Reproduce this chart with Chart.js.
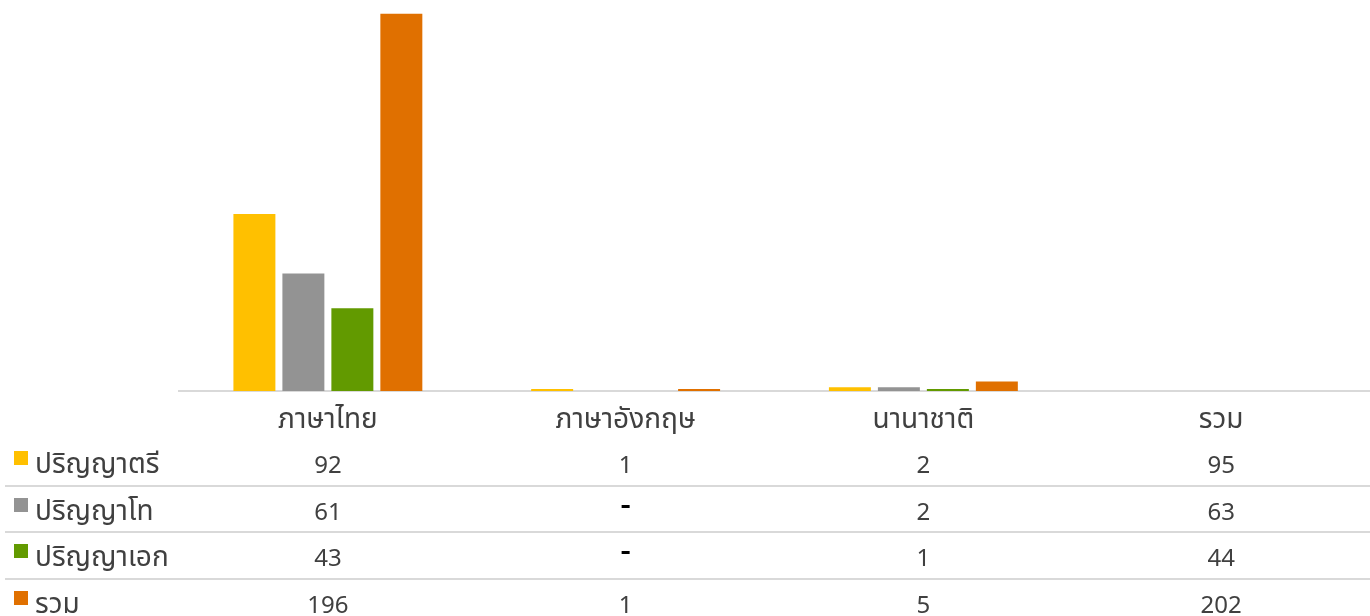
<!DOCTYPE html>
<html>
<head>
<meta charset="utf-8">
<script src="https://cdn.jsdelivr.net/npm/chart.js@4"></script>
<style>
  html, body { margin: 0; padding: 0; background: #fff; }
  #wrap { width: 1370px; height: 616px; position: relative; }
</style>
</head>
<body>
<div id="wrap"><canvas id="chart"></canvas></div>
<script>
// categories (last one is the total column, shown in the table only)
let categories = ["ภาษาไทย", "ภาษาอังกฤษ", "นานาชาติ", "รวม"];
let seriesNames = ["ปริญญาตรี", "ปริญญาโท", "ปริญญาเอก", "รวม"];
let seriesColors = ["#FFC000", "#939393", "#629A00", "#E07000"];

let bachelor = [92, 1, 2, 95];
let master = [61, null, 2, 63];
let doctorate = [43, null, 1, 44];
let total = [196, 1, 5, 202];

let allSeries = [bachelor, master, doctorate, total];

const fontFamily = "'Noto Sans Thai', 'Noto Sans', sans-serif";
const textColor = "#404040";
const lineColor = "#d9d9d9";

// text baselines of the table rows, and the lines between them
const rowBase = [473, 520, 566, 613];
const rowLines = [486, 532, 579];

const tablePlugin = {
  id: "dataTable",
  afterDraw(chart) {
    const ctx = chart.ctx;
    const x = chart.scales.x;
    ctx.save();
    ctx.strokeStyle = lineColor;
    ctx.lineWidth = 2;
    rowLines.forEach((y) => {
      ctx.beginPath();
      ctx.moveTo(5, y);
      ctx.lineTo(1370, y);
      ctx.stroke();
    });

    ctx.textBaseline = "alphabetic";
    allSeries.forEach((values, r) => {
      // legend key + row name
      ctx.fillStyle = seriesColors[r];
      ctx.fillRect(14, rowBase[r] - 22, 14, 14);
      ctx.fillStyle = textColor;
      ctx.textAlign = "left";
      ctx.font = "28px " + fontFamily;
      ctx.fillText(seriesNames[r], 35, rowBase[r]);

      ctx.textAlign = "center";
      ctx.font = "24px " + fontFamily;
      values.forEach((v, i) => {
        const px = x.getPixelForValue(i);
        if (v === null) {
          ctx.fillStyle = "#000";
          ctx.fillRect(px - 4, rowBase[r] - 15, 8, 3);
        } else {
          ctx.fillStyle = textColor;
          ctx.fillText(String(v), px, rowBase[r]);
        }
      });
    });
    ctx.restore();
  },
};

let datasets = seriesNames.map((name, i) => ({
  label: name,
  // the total column has no bars
  data: allSeries[i].slice(0, 3),
  backgroundColor: seriesColors[i],
  borderWidth: 0,
  barPercentage: 0.857,
  categoryPercentage: 0.658,
}));

let ctx = document.getElementById("chart").getContext("2d");
new Chart(ctx, {
  type: "bar",
  data: {
    labels: categories,
    datasets: datasets,
  },
  plugins: [tablePlugin],
  options: {
    responsive: true,
    maintainAspectRatio: false,
    animation: false,
    layout: {
      padding: { left: 179, right: 0, top: 6, bottom: 175 },
    },
    plugins: {
      legend: { display: false },
      tooltip: { enabled: false },
    },
    scales: {
      x: {
        grid: { display: false, drawTicks: false },
        border: { display: true, color: lineColor, width: 2 },
        ticks: {
          color: textColor,
          padding: 15,
          font: { family: fontFamily, size: 28 },
        },
        afterFit: (s) => {
          s.height = 50;
        },
      },
      y: {
        display: false,
        min: 0,
        max: 200,
      },
    },
  },
});
</script>
</body>
</html>
